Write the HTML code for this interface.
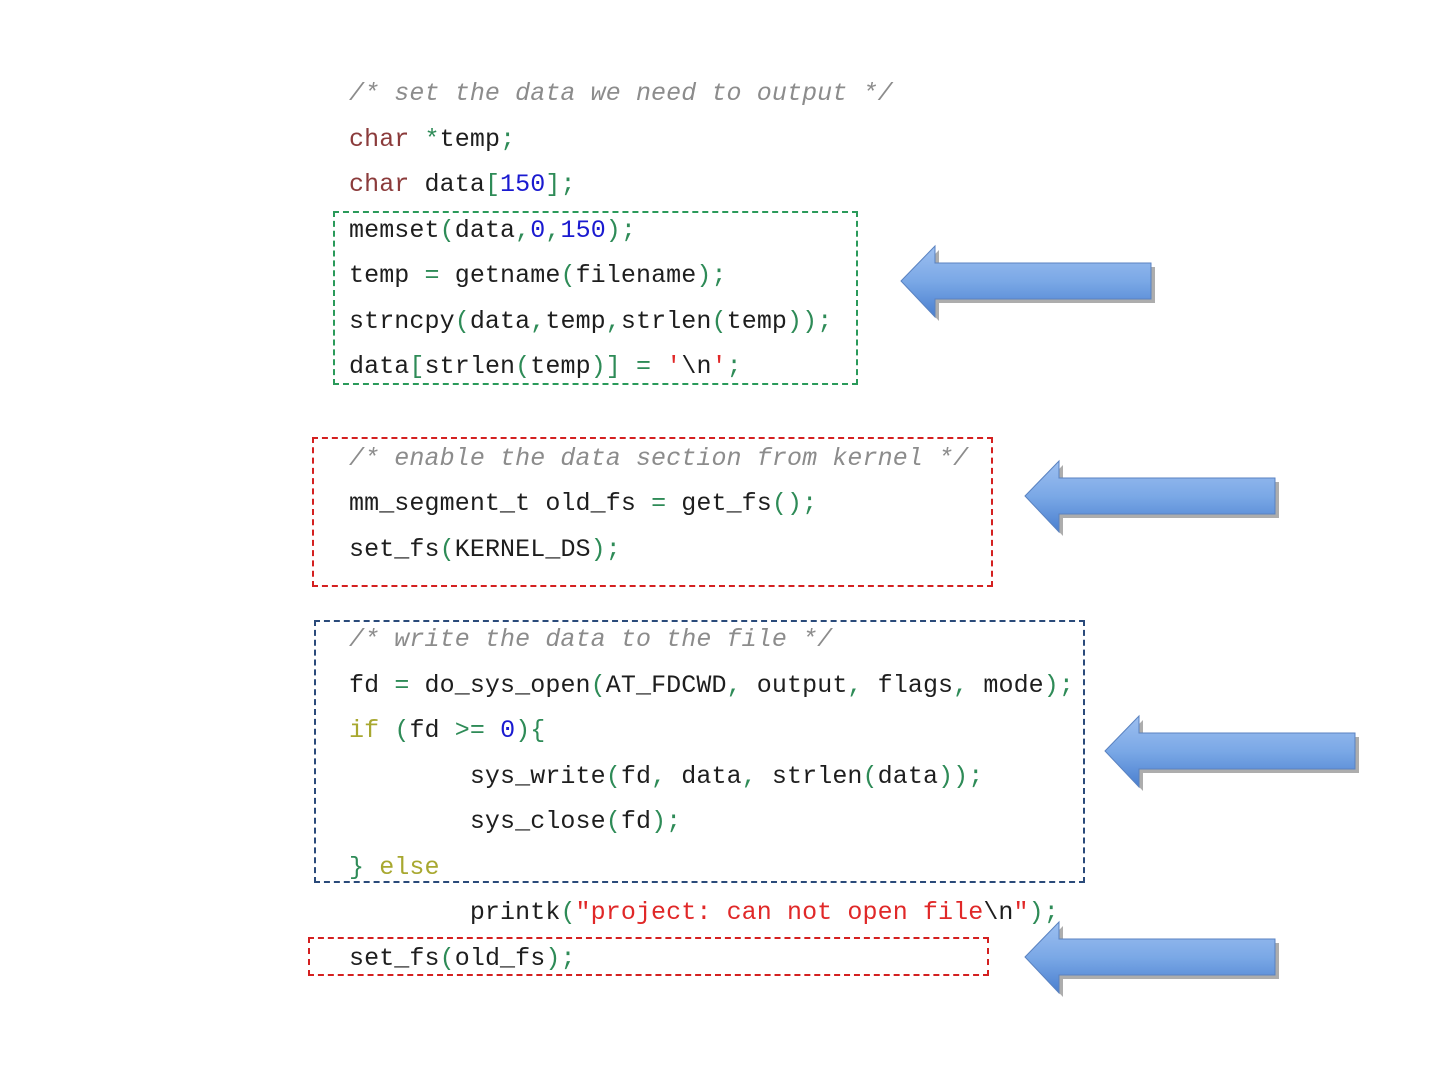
<!DOCTYPE html>
<html><head><meta charset="utf-8"><style>
body{margin:0;width:1440px;height:1080px;background:#fff;position:relative;overflow:hidden}
.l{position:absolute;left:349px;font-family:"Liberation Mono","DejaVu Sans Mono",monospace;font-size:25px;line-height:30px;height:30px;white-space:pre;color:#1e1e1e;letter-spacing:0.1px}
.c{color:#8c8c8c;font-style:italic}
.k{color:#8b3b3b}
.p{color:#2e8b57}
.n{color:#1a1ad0}
.s{color:#e02828}
.y{color:#a8a830}
.box{position:absolute;border:2px dashed}
svg{position:absolute;left:0;top:0}
</style></head><body>
<div class="box" style="left:333px;top:211px;width:521px;height:170px;border-color:#2a9a5a"></div>
<div class="box" style="left:312px;top:437px;width:677px;height:146px;border-color:#d42020"></div>
<div class="box" style="left:314px;top:620px;width:767px;height:259px;border-color:#2a4a7a"></div>
<div class="box" style="left:308px;top:937px;width:677px;height:35px;border-color:#d42020"></div>

<div class="l c" style="top:79px">/* set the data we need to output */</div>
<div class="l" style="top:125px"><span class="k">char</span> <span class="p">*</span>temp<span class="p">;</span></div>
<div class="l" style="top:170px"><span class="k">char</span> data<span class="p">[</span><span class="n">150</span><span class="p">];</span></div>
<div class="l" style="top:216px">memset<span class="p">(</span>data<span class="p">,</span><span class="n">0</span><span class="p">,</span><span class="n">150</span><span class="p">);</span></div>
<div class="l" style="top:261px">temp <span class="p">=</span> getname<span class="p">(</span>filename<span class="p">);</span></div>
<div class="l" style="top:307px">strncpy<span class="p">(</span>data<span class="p">,</span>temp<span class="p">,</span>strlen<span class="p">(</span>temp<span class="p">));</span></div>
<div class="l" style="top:352px">data<span class="p">[</span>strlen<span class="p">(</span>temp<span class="p">)]</span> <span class="p">=</span> <span class="s">'</span>\n<span class="s">'</span><span class="p">;</span></div>

<div class="l c" style="top:444px">/* enable the data section from kernel */</div>
<div class="l" style="top:489px">mm_segment_t old_fs <span class="p">=</span> get_fs<span class="p">();</span></div>
<div class="l" style="top:535px">set_fs<span class="p">(</span>KERNEL_DS<span class="p">);</span></div>

<div class="l c" style="top:625px">/* write the data to the file */</div>
<div class="l" style="top:671px">fd <span class="p">=</span> do_sys_open<span class="p">(</span>AT_FDCWD<span class="p">,</span> output<span class="p">,</span> flags<span class="p">,</span> mode<span class="p">);</span></div>
<div class="l" style="top:716px"><span class="y">if</span> <span class="p">(</span>fd <span class="p">&gt;=</span> <span class="n">0</span><span class="p">){</span></div>
<div class="l" style="top:762px">        sys_write<span class="p">(</span>fd<span class="p">,</span> data<span class="p">,</span> strlen<span class="p">(</span>data<span class="p">));</span></div>
<div class="l" style="top:807px">        sys_close<span class="p">(</span>fd<span class="p">);</span></div>
<div class="l" style="top:853px"><span class="p">}</span> <span class="y">else</span></div>
<div class="l" style="top:898px">        printk<span class="p">(</span><span class="s">"project: can not open file</span>\n<span class="s">"</span><span class="p">);</span></div>
<div class="l" style="top:944px">set_fs<span class="p">(</span>old_fs<span class="p">);</span></div>

<svg width="1440" height="1080">
<defs><linearGradient id="g" x1="0" y1="0" x2="0" y2="1">
<stop offset="0" stop-color="#9dbff0"/><stop offset="0.5" stop-color="#7aa8e6"/><stop offset="1" stop-color="#4a7fcf"/></linearGradient>
<g id="a">
<polygon points="4,40 38,5 38,22 254,22 254,58 38,58 38,76" fill="#8a8a8a" opacity="0.7"/>
<polygon points="0,36 34,1 34,18 250,18 250,54 34,54 34,72" fill="url(#g)" stroke="#5a82c0" stroke-width="1"/>
</g></defs>
<use href="#a" x="901" y="245"/>
<use href="#a" x="1025" y="460"/>
<use href="#a" x="1105" y="715"/>
<use href="#a" x="1025" y="921"/>
</svg>
</body></html>
